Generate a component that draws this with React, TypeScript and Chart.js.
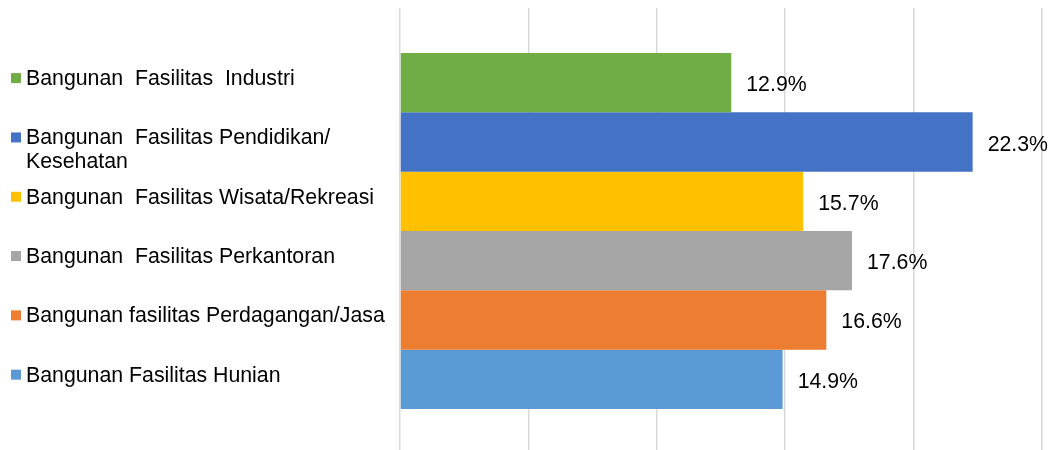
import React, { useEffect, useRef } from "react";
import { Chart, registerables } from "chart.js";

Chart.register(...registerables);

const categories = ["Jenis Bangunan"];
const seriesLabels: (string | string[])[] = [
  "Bangunan  Fasilitas  Industri",
  ["Bangunan  Fasilitas Pendidikan/", "Kesehatan"],
  "Bangunan  Fasilitas Wisata/Rekreasi",
  "Bangunan  Fasilitas Perkantoran",
  "Bangunan fasilitas Perdagangan/Jasa",
  "Bangunan Fasilitas Hunian",
];
const seriesValues = [12.9, 22.3, 15.7, 17.6, 16.6, 14.9];
const seriesColors = ["#70AD47", "#4472C4", "#FFC000", "#A5A5A5", "#ED7D31", "#5B9BD5"];
const axisMin = 0;
const axisMax = 25;
const axisStep = 5;

const FONT = '21.3px "Liberation Sans", Arial, sans-serif';

const labelPlugin = {
  id: "sideLabels",
  afterDatasetsDraw(chart: any) {
    const ctx = chart.ctx as CanvasRenderingContext2D;
    ctx.save();
    ctx.font = FONT;
    ctx.textBaseline = "alphabetic";
    ctx.textAlign = "left";
    chart.data.datasets.forEach((ds: any, i: number) => {
      const meta = chart.getDatasetMeta(i);
      const el: any = meta.data[0];
      if (!el) return;
      const v = ds.data[0] as number;
      // value label
      ctx.fillStyle = "#000000";
      ctx.fillText(v.toFixed(1) + "%", el.x + 15, el.y + 8.5);
      // legend-like swatch + text
      ctx.fillStyle = ds.backgroundColor;
      ctx.fillRect(11, el.y - 9.6, 10, 10);
      ctx.fillStyle = "#000000";
      const lines = Array.isArray(ds.label) ? ds.label : [ds.label];
      lines.forEach((ln: string, k: number) => {
        ctx.fillText(ln, 26, el.y + 2.3 + k * 23.7);
      });
    });
    ctx.restore();
  },
};

export default function App() {
  const ref = useRef<HTMLCanvasElement | null>(null);
  useEffect(() => {
    if (!ref.current) return;
    const chart = new Chart(ref.current, {
      type: "bar",
      data: {
        labels: categories,
        datasets: seriesValues.map((v, i) => ({
          label: seriesLabels[i] as any,
          data: [v],
          backgroundColor: seriesColors[i],
          borderWidth: 0,
          categoryPercentage: 0.798,
          barPercentage: 1,
        })),
      },
      options: {
        indexAxis: "y",
        animation: false,
        responsive: true,
        maintainAspectRatio: false,
        layout: { padding: { left: 400, right: 12, top: 8, bottom: 0 } },
        plugins: {
          legend: { display: false },
          tooltip: { enabled: false },
        },
        scales: {
          x: {
            min: axisMin,
            max: axisMax,
            ticks: { display: false, stepSize: axisStep },
            grid: { color: "#d9d9d9", lineWidth: 1.5, drawTicks: false },
            border: { display: false },
          },
          y: {
            display: false,
          },
        },
      },
      plugins: [labelPlugin],
    });
    return () => chart.destroy();
  }, []);
  return (
    <div
      style={{
        position: "absolute",
        left: 0,
        top: 0,
        width: 1054,
        height: 450,
        overflow: "hidden",
      }}
    >
      <div style={{ position: "relative", width: 1054, height: 454 }}>
        <canvas ref={ref} />
      </div>
    </div>
  );
}
